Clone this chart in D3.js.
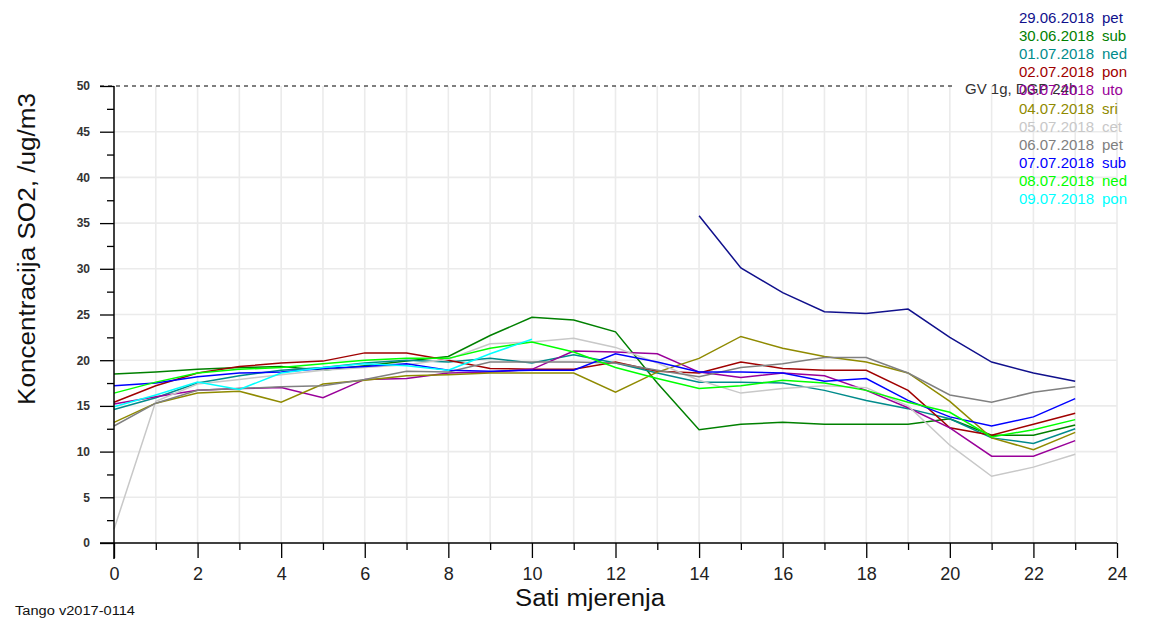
<!DOCTYPE html>
<html>
<head>
<meta charset="utf-8">
<script src="https://cdn.jsdelivr.net/npm/d3@7"></script>
<style>
  html, body { margin: 0; padding: 0; background: #ffffff; }
  svg { display: block; font-family: "Liberation Sans", Arial, sans-serif; }
</style>
</head>
<body>
<svg id="chart" width="1154" height="620"></svg>
<script>
// ---- data ----
const hours = [0,1,2,3,4,5,6,7,8,9,10,11,12,13,14,15,16,17,18,19,20,21,22,23];
const xTicks = [0,2,4,6,8,10,12,14,16,18,20,22,24];
const yTicks = [0,5,10,15,20,25,30,35,40,45,50];
const dates = ["29.06.2018","30.06.2018","01.07.2018","02.07.2018","03.07.2018","04.07.2018","05.07.2018","06.07.2018","07.07.2018","08.07.2018","09.07.2018"];
const days  = ["pet","sub","ned","pon","uto","sri","cet","pet","sub","ned","pon"];
const colors = ["#10108c","#008000","#008b8b","#a00000","#990099","#8f8a00","#c8c8c8","#808080","#0000ff","#00ff00","#00ffff"];
const limitValue = 50;
const limitLabel = "GV 1g, DGP 24h";

const s2906 = [null,null,null,null,null,null,null,null,null,null,null,null,null,null,35.8,30.1,27.4,25.3,25.1,25.6,22.5,19.8,18.6,17.7];
const s3006 = [18.5,18.7,19.0,19.2,19.3,18.9,19.4,19.9,20.4,22.7,24.7,24.4,23.1,17.5,12.4,13.0,13.2,13.0,13.0,13.0,13.6,11.8,11.8,12.9];
const s0107 = [14.6,15.9,17.5,18.3,18.9,19.2,19.7,20.0,19.8,20.2,19.7,20.6,19.7,18.6,17.6,17.6,17.5,16.7,15.6,14.7,13.6,11.5,10.9,12.5];
const s0207 = [15.4,17.2,18.6,19.3,19.7,19.9,20.8,20.8,20.0,19.1,19.0,19.0,19.8,18.8,18.6,19.8,19.1,18.9,18.9,16.7,12.6,11.8,13.0,14.2];
const s0307 = [15.2,16.0,16.7,16.9,17.0,15.9,17.9,18.0,18.6,18.7,19.0,21.0,20.9,20.7,18.7,18.1,18.6,18.3,16.7,14.8,12.6,9.5,9.5,11.2];
const s0407 = [13.2,15.3,16.4,16.6,15.4,17.4,17.8,18.3,18.4,18.6,18.6,18.6,16.5,18.7,20.2,22.6,21.3,20.4,19.8,18.6,15.5,11.5,10.2,12.1];
const s0507 = [1.5,15.5,17.4,17.9,18.4,18.9,19.2,19.5,20.1,21.8,22.0,22.4,21.4,19.7,17.8,16.4,16.9,17.2,17.0,15.0,10.7,7.3,8.3,9.7];
const s0607 = [12.8,15.3,16.7,16.9,17.1,17.2,17.9,18.8,18.7,19.8,19.8,19.8,19.7,18.9,18.2,19.2,19.6,20.3,20.3,18.6,16.2,15.4,16.5,17.1];
const s0707 = [17.2,17.5,18.2,18.6,18.7,19.1,19.3,19.6,18.9,18.8,18.9,18.9,20.7,19.8,18.7,18.7,18.6,17.7,18.0,15.6,13.8,12.8,13.8,15.8];
const s0807 = [16.4,17.6,18.6,19.0,19.2,19.6,20.0,20.2,20.2,21.3,22.0,20.9,19.2,18.0,16.9,17.2,17.8,17.5,16.7,15.4,14.3,11.6,12.4,13.5];
const s0907 = [14.9,16.2,17.6,16.8,18.6,19.2,19.6,19.4,18.9,20.7,22.3,null,null,null,null,null,null,null,null,null,null,null,null,null];
const seriesValues = [s2906,s3006,s0107,s0207,s0307,s0407,s0507,s0607,s0707,s0807,s0907];

// ---- chart ----
const svg = d3.select("#chart");
const x = d3.scaleLinear().domain([0, 24]).range([114, 1117]);
const y = d3.scaleLinear().domain([0, 50]).range([543, 86]);

// grid
const grid = svg.append("g");
grid.selectAll("line.v").data(d3.range(1, 25)).enter().append("line")
  .attr("x1", d => x(d)).attr("x2", d => x(d))
  .attr("y1", y(50)).attr("y2", y(0))
  .attr("stroke", "#ebebeb").attr("stroke-width", 1.6);
grid.selectAll("line.h").data(yTicks.filter(v => v > 0 && v < 50)).enter().append("line")
  .attr("x1", x(0)).attr("x2", x(24))
  .attr("y1", d => y(d)).attr("y2", d => y(d))
  .attr("stroke", "#ebebeb").attr("stroke-width", 1.6);

// limit line
svg.append("line")
  .attr("x1", 100).attr("x2", 952)
  .attr("y1", y(limitValue)).attr("y2", y(limitValue))
  .attr("stroke", "#000").attr("stroke-width", 1.2).attr("stroke-dasharray", "4,4");
svg.append("text").attr("x", 965).attr("y", y(limitValue) + 8)
  .attr("font-size", 15).attr("fill", "#333").text(limitLabel);

// series lines
const line = d3.line()
  .defined(d => d[1] !== null)
  .x(d => x(d[0])).y(d => y(d[1]));
seriesValues.forEach((vals, i) => {
  svg.append("path")
    .datum(hours.map((h, j) => [h, vals[j]]))
    .attr("fill", "none")
    .attr("stroke", colors[i])
    .attr("stroke-width", 1.5)
    .attr("d", line);
});

// axes
const yAxis = d3.axisLeft(y).tickValues(yTicks).tickSize(14).tickPadding(10).tickFormat(d3.format("d"));
const yg = svg.append("g").attr("transform", `translate(${x(0)},0)`).call(yAxis);
yg.select(".domain").remove();
yg.selectAll(".tick line").attr("stroke", "#000").attr("stroke-width", 1.3);
yg.selectAll(".tick text").attr("font-size", 12).attr("font-weight", "bold").attr("fill", "#333");
const yMinor = d3.axisLeft(y).tickValues([2.5,7.5,12.5,17.5,22.5,27.5,32.5,37.5,42.5,47.5]).tickSize(7).tickFormat("");
const ym = svg.append("g").attr("transform", `translate(${x(0)},0)`).call(yMinor);
ym.select(".domain").remove();
ym.selectAll(".tick line").attr("stroke", "#000").attr("stroke-width", 1.3);
svg.append("line").attr("x1", x(0)).attr("x2", x(0)).attr("y1", y(50)).attr("y2", 559)
  .attr("stroke", "#000").attr("stroke-width", 1.5);

const xAxis = d3.axisBottom(x).tickValues(xTicks).tickSize(15).tickPadding(9).tickFormat(d3.format("d"));
const xg = svg.append("g").attr("transform", `translate(0,${y(0)})`).call(xAxis);
xg.select(".domain").remove();
xg.selectAll(".tick line").attr("stroke", "#000").attr("stroke-width", 1.3);
xg.selectAll(".tick text").attr("font-size", 18).attr("fill", "#222");
const xMinor = d3.axisBottom(x).tickValues([1,3,5,7,9,11,13,15,17,19,21,23]).tickSize(7).tickFormat("");
const xm = svg.append("g").attr("transform", `translate(0,${y(0)})`).call(xMinor);
xm.select(".domain").remove();
xm.selectAll(".tick line").attr("stroke", "#000").attr("stroke-width", 1.3);
svg.append("line").attr("x1", 100).attr("x2", x(24)).attr("y1", y(0)).attr("y2", y(0))
  .attr("stroke", "#000").attr("stroke-width", 1.5);

// titles
svg.append("text").attr("x", 590).attr("y", 606).attr("text-anchor", "middle")
  .attr("font-size", 23).attr("textLength", 150).attr("lengthAdjust", "spacingAndGlyphs")
  .attr("fill", "#111").text("Sati mjerenja");
svg.append("text").attr("transform", "translate(35,249) rotate(-90)").attr("text-anchor", "middle")
  .attr("font-size", 23).attr("textLength", 312).attr("lengthAdjust", "spacingAndGlyphs")
  .attr("fill", "#111").text("Koncentracija SO2, /ug/m3");
svg.append("text").attr("x", 15).attr("y", 615)
  .attr("font-size", 12).attr("textLength", 120).attr("lengthAdjust", "spacingAndGlyphs")
  .attr("fill", "#111").text("Tango v2017-0114");

// legend
const leg = svg.append("g");
dates.forEach((d, i) => {
  const yy = 23 + i * 18.1;
  leg.append("text").attr("x", 1094).attr("y", yy).attr("text-anchor", "end")
    .attr("font-size", 15).attr("fill", colors[i]).text(d);
  leg.append("text").attr("x", 1102).attr("y", yy)
    .attr("font-size", 15).attr("fill", colors[i]).text(days[i]);
});
</script>
</body>
</html>
